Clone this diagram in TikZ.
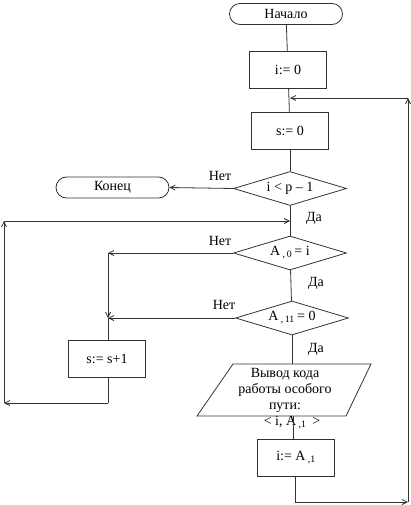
\documentclass[tikz,border=0pt]{standalone}
\usepackage{fontspec}
\setmainfont{Liberation Serif}
\usetikzlibrary{shapes.geometric,shapes.misc,arrows.meta}
\begin{document}
\begin{tikzpicture}[x=1pt,y=-1pt,
  every node/.style={font=\fontsize{14}{16}\selectfont},
  line/.style={draw=black!80,line width=0.8pt},
  arr/.style={line,-{Straight Barb[length=5pt,width=5pt]}},
  term/.style={rounded rectangle,draw=black!80,line width=0.8pt,minimum width=113pt,minimum height=21pt,inner sep=0pt},
  proc/.style={rectangle,draw=black!80,line width=0.8pt,minimum width=77pt,minimum height=37pt,inner sep=0pt},
  dec/.style={diamond,draw=black!80,line width=0.8pt,aspect=3.2,minimum width=113pt,minimum height=34pt,inner sep=0pt},
  lbl/.style={inner sep=0pt}]
\useasboundingbox (0,0) rectangle (411,505);
\node[term] (start) at (286,14) {Начало};
\node[proc] (b1) at (288,70) {i:= 0};
\node[proc] (b2) at (290,130.5) {s:= 0};
\node[dec] (d1) at (290,188.5) {i < p – 1};
\node[term] (stop) at (112.5,187.5) {Конец};
\node[dec] (d2) at (290,253) {A\,\textsubscript{,\,0}\,= i};
\node[dec] (d3) at (292,318) {A\,\textsubscript{,\,11}\,= 0};
\node[proc] (inc) at (107,358.5) {s:= s+1};
\node[inner sep=0pt,minimum width=140pt,minimum height=52pt] (out) at (284,390) {};
\draw[line] (233,364) -- (371,364) -- (346,416) -- (197,416) -- cycle;
\node[align=center,inner sep=0pt] (outtxt) at (285,390) {Вывод кода\\работы особого\\пути:};
\node[lbl] (outarg) at (292,423) {< i, A\,\textsubscript{,1}\, >};
\node[proc] (b3) at (296,458) {i:= A\,\textsubscript{,1}};
\coordinate (c1) at (108,253);
\coordinate (c2) at (108,318);
\coordinate (c3) at (108,403);
\coordinate (c4) at (4,403);
\coordinate (c5) at (4,221);
\coordinate (c6) at (290,221);
\coordinate (r1) at (295,502);
\coordinate (r2) at (408,502);
\coordinate (r3) at (408,98);
\coordinate (r4) at (290,98);
% main spine
\draw[line] (start) -- (b1);
\draw[line] (b1) -- (b2);
\draw[line] (b2) -- (d1);
\draw[line] (d1) -- (d2);
\draw[line] (d2) -- (d3);
\draw[line] (d3.south) -- (292,364);
\draw[line] (293,416) -- (b3.north -| 293,0);
% no branches
\draw[arr] (d1.west) -- (stop.east);
\draw[arr] (d2.west) -- (c1);
\draw[arr] (c1) -- (c2);
\draw[line] (c2) -- (inc.north -| c2);
\draw[arr] (d3.west) -- (c2);
% left loop
\draw[line] (inc.south -| c3) -- (c3);
\draw[arr] (c3) -- (c4);
\draw[arr] (c4) -- (c5);
\draw[arr] (c5) -- (c6);
% right loop
\draw[line] (b3.south -| r1) -- (r1);
\draw[arr] (r1) -- (r2);
\draw[arr] (r2) -- (r3);
\draw[arr] (r3) -- (r4);
% labels
\node[lbl] at (220,176) {Нет};
\node[lbl] at (220,241) {Нет};
\node[lbl] at (224,305) {Нет};
\node[lbl] at (314,218) {Да};
\node[lbl] at (316,283) {Да};
\node[lbl] at (316,349) {Да};
\end{tikzpicture}
\end{document}
